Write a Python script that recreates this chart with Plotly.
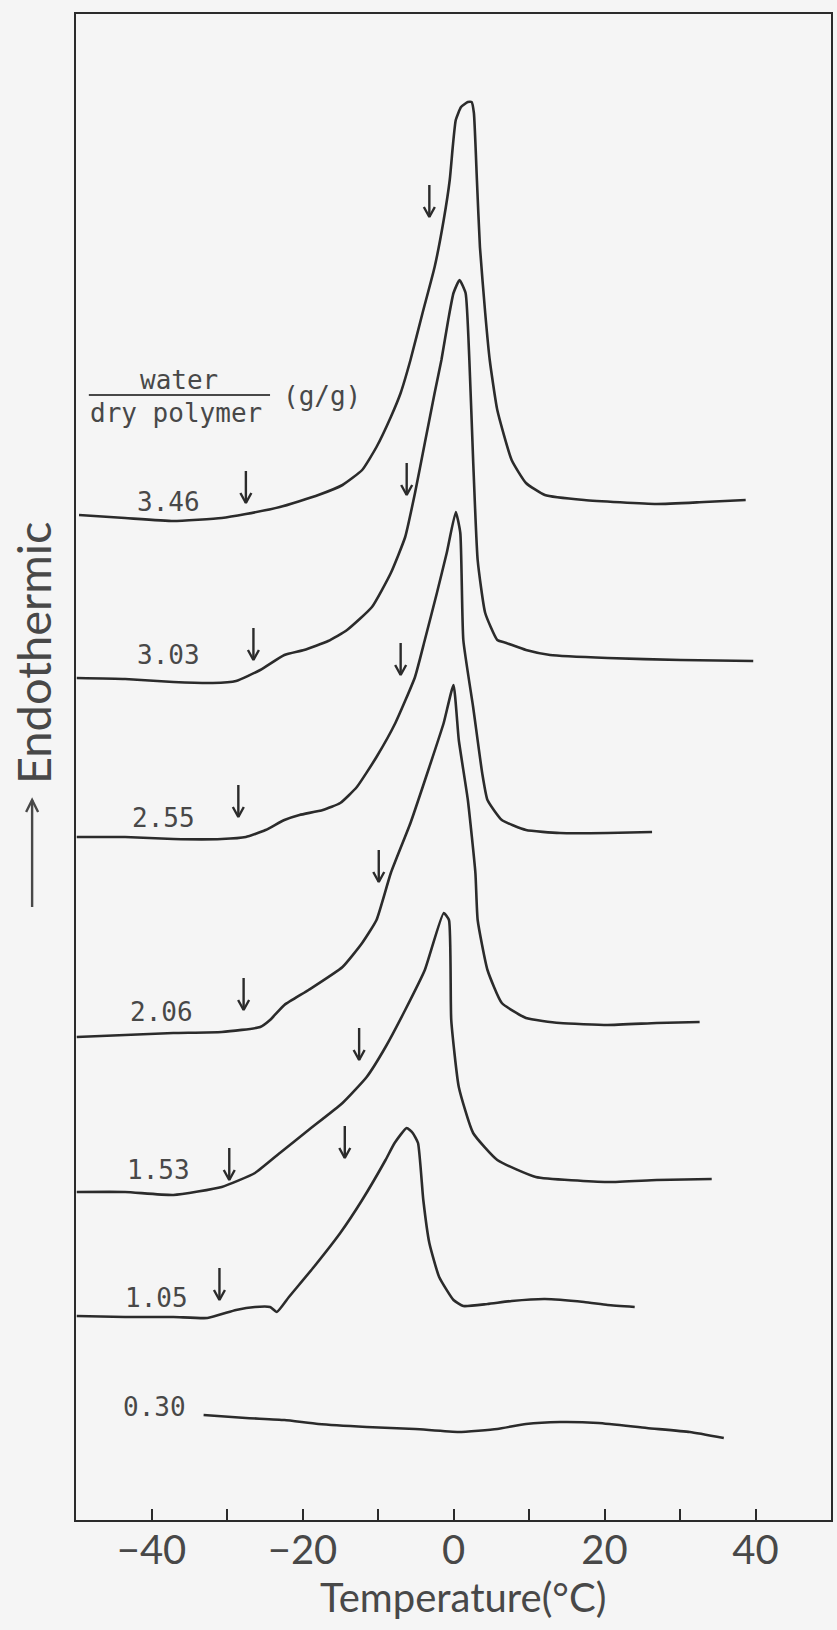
import plotly.graph_objects as go

# DSC heating traces of the hydrogel at several water contents.
# Temperatures in deg C, heat flow in arbitrary (stacked) units.
water_content = ["3.46", "3.03", "2.55", "2.06", "1.53", "1.05", "0.30"]

t_346 = [-49.6, -43.5, -37.1, -30.7, -27.5, -23.0, -17.9, -14.7, -12.1, -10.2, -8.3, -7.0, -5.7,
         -4.1, -2.5, -1.3, -0.5, -0.1, 0.3, 1.0, 1.9, 2.4, 2.7, 3.1, 3.5, 4.2, 4.8, 5.8, 7.7,
         9.6, 12.1, 17.3, 26.9, 33.2, 38.7]
q_346 = [1005, 1002, 999, 1002, 1006, 1013, 1025, 1035, 1050, 1073, 1103, 1127, 1160,
         1207, 1253, 1300, 1340, 1373, 1400, 1413, 1418, 1418, 1407, 1340, 1273, 1207, 1160, 1110, 1060,
         1037, 1025, 1020, 1016, 1018, 1020]

t_303 = [-49.9, -43.5, -37.1, -31.9, -28.8, -25.6, -22.4, -19.8, -16.6, -14.1, -10.8, -8.3, -6.4,
         -5.1, -3.8, -2.5, -1.6, -0.7, 0.0, 0.8, 1.6, 2.1, 2.6, 3.2, 4.2, 5.8, 7.0, 9.6, 12.8,
         20.4, 30.1, 39.7]
q_303 = [842, 841, 838, 837, 839, 850, 865, 870, 879, 890, 913, 947, 983,
         1027, 1077, 1127, 1160, 1200, 1227, 1240, 1227, 1160, 1060, 960, 907, 880, 877, 870, 865,
         862, 860, 859]

t_255 = [-49.9, -43.5, -37.1, -30.7, -27.5, -24.9, -22.4, -20.4, -17.3, -15.0, -12.8, -10.2, -7.7,
         -5.1, -3.8, -2.2, -0.9, 0.3, 0.9, 1.3, 2.6, 3.8, 4.5, 6.4, 9.6, 14.1, 20.4, 26.3]
q_255 = [683, 683, 681, 681, 683, 690, 700, 705, 710, 717, 733, 763, 797,
         843, 880, 927, 967, 1008, 987, 880, 813, 747, 720, 700, 690, 687, 687, 688]

t_206 = [-49.9, -43.5, -37.1, -30.7, -25.6, -24.3, -22.4, -19.2, -14.7, -12.1, -10.2, -8.3, -5.7,
         -3.2, -1.3, 0.0, 0.7, 1.9, 2.9, 3.2, 4.5, 6.4, 9.6, 14.1, 20.4, 26.9, 32.6]
q_206 = [483, 485, 487, 488, 493, 500, 515, 530, 553, 577, 600, 647, 697,
         753, 797, 835, 780, 720, 647, 600, 550, 517, 502, 497, 495, 497, 498]

t_153 = [-49.9, -43.5, -37.1, -30.7, -26.3, -23.0, -19.2, -14.7, -11.5, -9.0, -6.4, -3.8, -1.3,
         -0.6, -0.3, 0.7, 2.6, 5.8, 10.9, 20.4, 26.9, 34.2]
q_153 = [328, 328, 325, 333, 347, 367, 390, 417, 443, 473, 510, 550, 607,
         600, 500, 433, 387, 360, 343, 338, 340, 341]

t_105 = [-49.9, -43.5, -37.1, -32.6, -28.8, -26.3, -24.3, -23.4, -21.8, -18.5, -15.0, -12.1, -9.0,
         -7.8, -6.2, -5.4, -4.7, -4.0, -3.2, -1.9, 0.0, 1.3, 4.5, 7.7, 12.1, 17.3, 20.4, 24.0]
q_105 = [204, 203, 203, 202, 210, 213, 213, 208, 223, 253, 287, 320, 360,
         377, 392, 387, 377, 320, 277, 243, 220, 214, 216, 219, 221, 218, 215, 213]

t_030 = [-33.1, -27.5, -22.4, -17.9, -11.5, -5.1, 0.7, 5.8, 9.6, 14.1, 19.2, 25.6, 31.3, 35.8]
q_030 = [105, 102, 100, 96, 93, 91, 88, 91, 96, 98, 97, 92, 88, 82]

temps = [t_346, t_303, t_255, t_206, t_153, t_105, t_030]
flows = [q_346, q_303, q_255, q_206, q_153, q_105, q_030]

# Onset markers (downward arrows): temperature, tip level
arrow_t = [-27.5, -3.2, -26.5, -6.2, -28.5, -7.0, -27.8, -9.9, -29.7, -12.5, -31.0, -14.4]
arrow_q = [1017, 1303, 860, 1025, 703, 845, 510, 638, 340, 460, 220, 362]

INK = "#2b2b2b"
TEXT = "#484848"
W, H = 837, 1630
ML, MR, MT, MB = 76, 4, 14, 110
XR = [-50, 50]
YR = [0, H - MT - MB]
px_per_deg = (W - ML - MR) / (XR[1] - XR[0])
px_per_unit = (H - MT - MB) / (YR[1] - YR[0])

fig = go.Figure()

for t, q in zip(temps, flows):
    fig.add_trace(go.Scatter(
        x=t, y=q, mode="lines",
        line=dict(color=INK, width=2.6, shape="spline", smoothing=0.45),
        hoverinfo="skip", showlegend=False,
    ))

# arrow glyphs: stem plus open chevron head
stem = 32 / px_per_unit
head_h = 10 / px_per_unit
head_w = 5.5 / px_per_deg
ax_x, ax_y = [], []
for t, q in zip(arrow_t, arrow_q):
    ax_x += [t, t, None, t - head_w, t, t + head_w, None]
    ax_y += [q + stem, q, None, q + head_h, q, q + head_h, None]
fig.add_trace(go.Scatter(
    x=ax_x, y=ax_y, mode="lines",
    line=dict(color=INK, width=2.4),
    hoverinfo="skip", showlegend=False,
))

mono = dict(family="DejaVu Sans Mono", size=26, color=TEXT)

# curve labels
label_pos = [(-37.7, 1018), (-37.7, 865), (-38.4, 702), (-38.7, 508),
             (-39.1, 350), (-39.3, 222), (-39.6, 113)]
for txt, (lx, ly) in zip(water_content, label_pos):
    fig.add_annotation(x=lx, y=ly, text=txt, showarrow=False, font=mono,
                       xanchor="center", yanchor="middle")

# legend key: water / dry polymer (g/g)
fig.add_annotation(x=-36.4, y=1140, text="water", showarrow=False, font=mono,
                   xanchor="center", yanchor="middle")
fig.add_annotation(x=-36.7, y=1107, text="dry polymer", showarrow=False, font=mono,
                   xanchor="center", yanchor="middle")
fig.add_annotation(x=-17.4, y=1124, text="(g/g)", showarrow=False, font=mono,
                   xanchor="center", yanchor="middle")
fig.add_shape(type="line", x0=-48.3, x1=-24.3, y0=1125, y1=1125,
              line=dict(color=TEXT, width=2))

# axis titles
py_to_paper = lambda p: (H - MB - p) / (H - MT - MB)
px_to_paper = lambda p: (p - ML) / (W - ML - MR)
fig.add_annotation(xref="paper", yref="paper", x=px_to_paper(464), y=py_to_paper(1597),
                   text="Temperature(°C)", showarrow=False,
                   xanchor="center", yanchor="middle",
                   font=dict(family="Lato", size=40, color=TEXT))
fig.add_annotation(xref="paper", yref="paper", x=px_to_paper(33), y=py_to_paper(653),
                   text="Endothermic", textangle=-90, showarrow=False,
                   xanchor="center", yanchor="middle",
                   font=dict(family="Lato", size=47, color=TEXT))
ax_p = px_to_paper(32)
fig.add_shape(type="line", xref="paper", yref="paper", x0=ax_p, x1=ax_p,
              y0=py_to_paper(907), y1=py_to_paper(800), line=dict(color=TEXT, width=2.4))
fig.add_shape(type="path", xref="paper", yref="paper",
              path=f"M {px_to_paper(26)} {py_to_paper(812)} L {ax_p} {py_to_paper(800)} "
                   f"L {px_to_paper(38)} {py_to_paper(812)}",
              line=dict(color=TEXT, width=2.4))

fig.update_layout(
    width=W, height=H,
    margin=dict(l=ML, r=MR, t=MT, b=MB),
    paper_bgcolor="#f5f5f5", plot_bgcolor="#f5f5f5",
    showlegend=False,
    xaxis=dict(range=XR, showgrid=False, zeroline=False,
               showline=True, mirror=True, linecolor=INK, linewidth=2,
               ticks="inside", ticklen=11, tickwidth=2, tickcolor=INK,
               tickvals=[-40, -20, 0, 20, 40],
               minor=dict(tickvals=[-30, -10, 10, 30], ticks="inside", ticklen=11,
                          tickwidth=2, tickcolor=INK),
               tickfont=dict(family="Lato", size=40, color=TEXT),
               ticklabelstandoff=-6),
    yaxis=dict(range=YR, showgrid=False, zeroline=False,
               showline=True, mirror=True, linecolor=INK, linewidth=2,
               showticklabels=False, ticks=""),
)

fig.write_html("out.html")
